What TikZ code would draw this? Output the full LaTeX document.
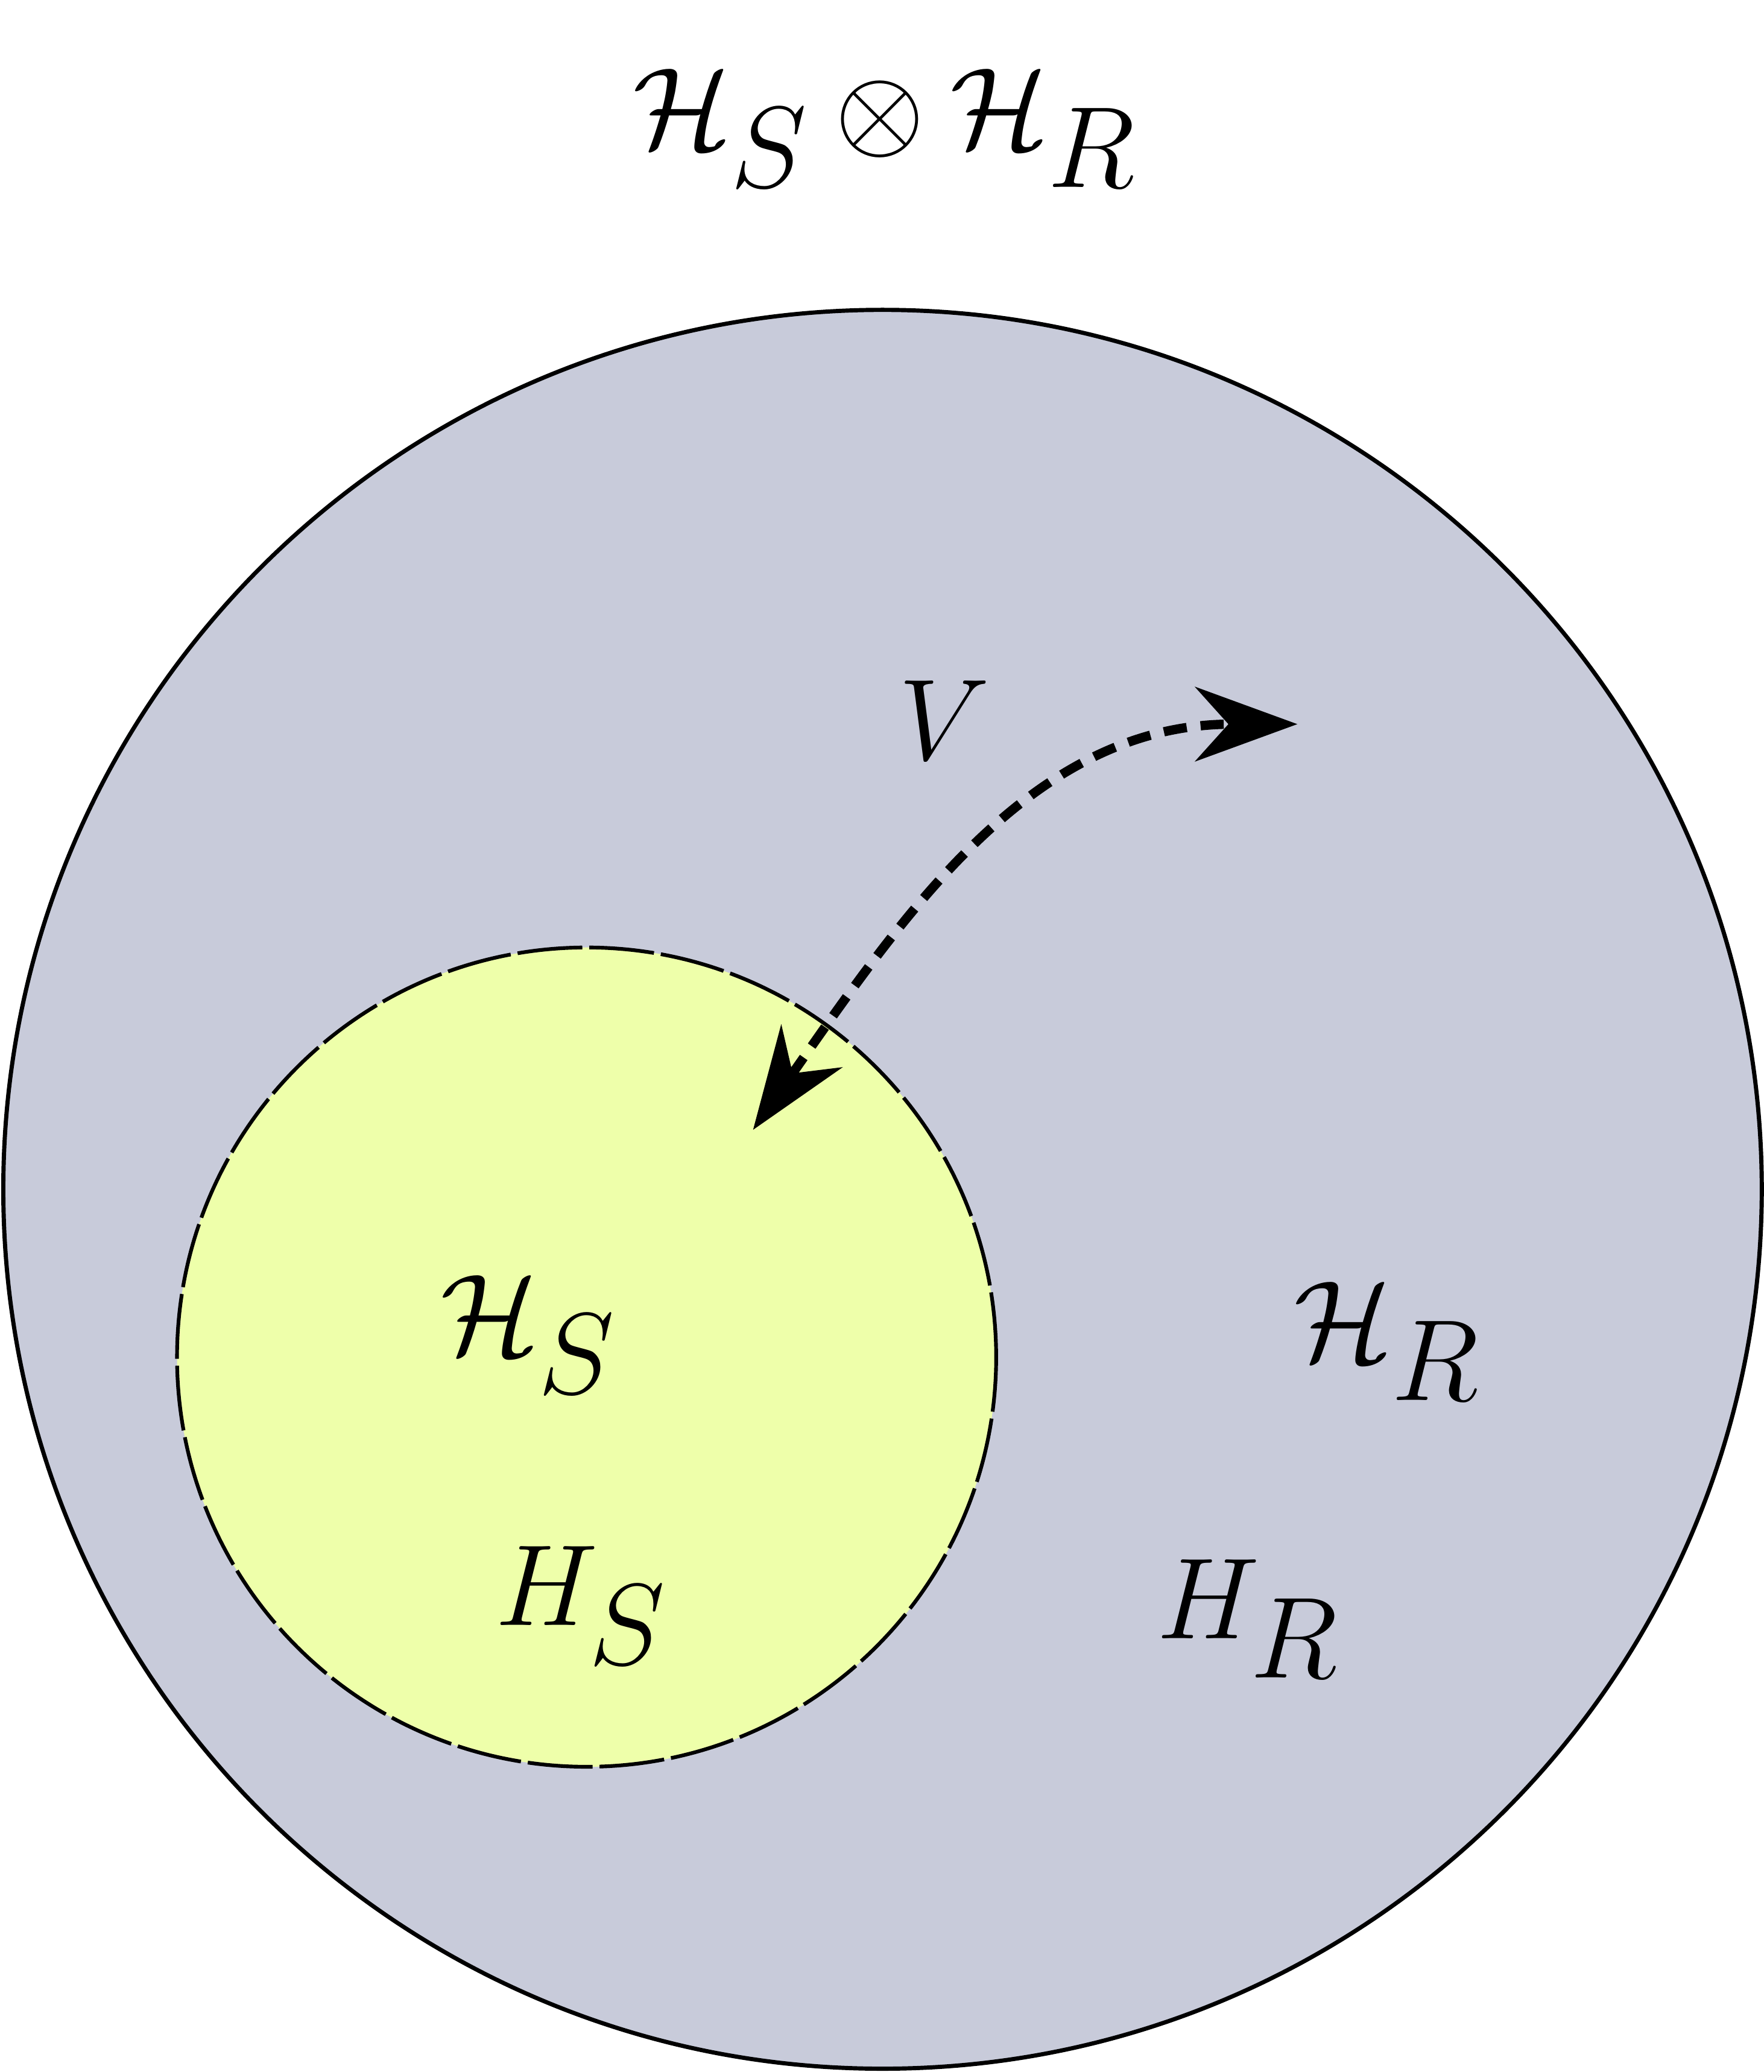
\documentclass[tikz,border=0pt]{standalone}
\usepackage{amsmath}
\usepackage{amssymb}
\usetikzlibrary{arrows.meta}
\definecolor{bigfill}{HTML}{C8CBDA}
\definecolor{smallfill}{HTML}{EEFFAA}
\tikzset{
  bigtext/.style={font=\fontsize{60}{72}\selectfont},
  midtext/.style={font=\fontsize{50}{60}\selectfont},
}
\begin{document}
\begin{tikzpicture}
\useasboundingbox (0,0) rectangle (13.35,-15.68);
\node[bigtext] (top) at (6.7,-0.97) {$\mathcal{H}_S \otimes \mathcal{H}_R$};
\draw[fill=bigfill, line width=0.9pt] (6.68,-9.0) circle (6.655);
\draw[fill=smallfill, line width=0.8pt, dash pattern=on 14pt off 1.5pt] (4.44,-10.27) circle (3.1);
\node[bigtext] (hs) at (4.0,-10.1) {$\mathcal{H}_S$};
\node[midtext] (hsm) at (4.4,-12.15) {$H_S$};
\node[bigtext] (hr) at (10.5,-10.15) {$\mathcal{H}_R$};
\node[midtext] (hrm) at (9.45,-12.25) {$H_R$};
\node[midtext] (v) at (7.15,-5.45) {$V$};
\coordinate (a) at (5.7,-8.55);
\coordinate (b) at (9.82,-5.48);
\draw[line width=2pt, dash pattern=on 5pt off 3pt,
  {Stealth[length=22pt,width=16pt]}-{Stealth[length=22pt,width=16pt]}]
  (a) to[out=55,in=180] (b);
\end{tikzpicture}
\end{document}
